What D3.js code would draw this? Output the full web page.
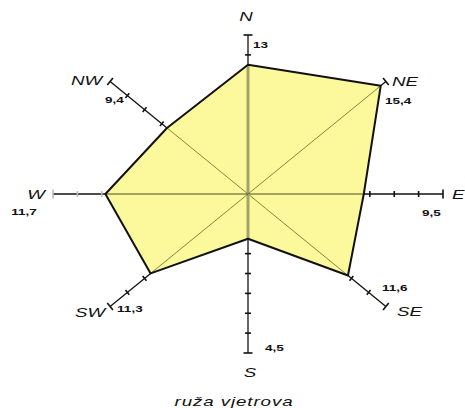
<!DOCTYPE html>
<html>
<head>
<meta charset="utf-8">
<script src="https://d3js.org/d3.v7.min.js"></script>
<style>
  body { margin: 0; background: #fff; }
  svg { display: block; }
  text { font-family: "Liberation Sans", Arial, sans-serif; font-style: italic; fill: #111; }
</style>
</head>
<body>
<div id="rose"></div>
<script>
// podaci - ruža vjetrova
const directions = ["N", "NE", "E", "SE", "S", "SW", "W", "NW"];
const speeds = [13, 15.4, 9.5, 11.6, 4.5, 11.3, 11.7, 9.4];
const valueLabels = ["13", "15,4", "9,5", "11,6", "4,5", "11,3", "11,7", "9,4"];
const tickValues = [2, 4, 6, 8, 10, 12, 14, 16];
const axisMax = 16;
const title = "ruža vjetrova";

// raspored
var width = 465, height = 408;
var cx = 248, cy = 194;
var svg = d3.select("#rose").append("svg")
            .attr("width", width)
            .attr("height", height);

// slika je razvučena vodoravno, zato dvije skale
var xScale = d3.scaleLinear().domain([-axisMax, axisMax]).range([cx - 195, cx + 195]);
var yScale = d3.scaleLinear().domain([-axisMax, axisMax]).range([cy + 159, cy - 159]);

function pt(i, v) {
  var a = i * Math.PI / 4;
  return [xScale(v * Math.sin(a)), yScale(v * Math.cos(a))];
}
function unit(i) {
  var e = pt(i, axisMax);
  var dx = e[0] - cx, dy = e[1] - cy, l = Math.sqrt(dx * dx + dy * dy);
  return [dx / l, dy / l];
}

// poligon (ispuna)
var poly = speeds.map((s, i) => pt(i, s));
svg.append("polygon")
   .attr("points", poly.map(p => p.join(",")).join(" "))
   .style("fill", "#fbf99b")
   .style("stroke", "none");

// osi unutar poligona
directions.forEach((d, i) => {
  var p = pt(i, speeds[i]);
  var vertical = (d === "N" || d === "S");
  svg.append("line")
     .attr("x1", cx).attr("y1", cy).attr("x2", p[0]).attr("y2", p[1])
     .style("stroke", vertical ? "#a2a36a" : (d === "E" || d === "W") ? "#4e4e1c" : "#86873c")
     .style("stroke-width", vertical ? 3 : 1);
});

// osi izvan poligona + crtice
directions.forEach((d, i) => {
  var p = pt(i, speeds[i]), e = pt(i, axisMax), u = unit(i);
  var n = [-u[1], u[0]];
  svg.append("line")
     .attr("x1", p[0]).attr("y1", p[1]).attr("x2", e[0]).attr("y2", e[1])
     .style("stroke", "#111").style("stroke-width", 1.3);
  tickValues.filter(t => t > speeds[i]).forEach(t => {
    var q = pt(i, t), len = t === axisMax ? 4.5 : 3;
    svg.append("line")
       .attr("x1", q[0] - n[0] * len).attr("y1", q[1] - n[1] * len)
       .attr("x2", q[0] + n[0] * len).attr("y2", q[1] + n[1] * len)
       .style("stroke", d === "W" ? "#bbb" : "#111").style("stroke-width", 1.6);
  });
});

// obrub poligona
svg.append("polygon")
   .attr("points", poly.map(p => p.join(",")).join(" "))
   .style("fill", "none")
   .style("stroke", "#111")
   .style("stroke-width", 2)
   .style("stroke-linejoin", "round");

// natpisi smjerova i vrijednosti (pomaci u pikselima od kraja osi)
var dirOffset = {
  N: [-2, -18, "middle"], NE: [6, 0, "start"], E: [9, 1, "start"], SE: [11, 5, "start"],
  S: [2, 20, "middle"], SW: [-5, 6, "end"], W: [-17, 1, "middle"], NW: [-8, -1, "end"]
};
var valOffset = {
  N: [5, 10, "start"], NE: [-1, 19, "start"], E: [-21, 19, "start"], SE: [-4, -19, "start"],
  S: [17, -5, "start"], SW: [7, 2, "start"], W: [-29, 18, "middle"], NW: [-5, 18, "start"]
};
var stretch = 1.5;

directions.forEach((d, i) => {
  var e = pt(i, axisMax);
  var o = dirOffset[d];
  svg.append("text")
     .attr("transform", "translate(" + (e[0] + o[0]) + "," + (e[1] + o[1]) + ") scale(" + stretch + ",1)")
     .attr("text-anchor", o[2])
     .attr("dominant-baseline", "central")
     .style("font-size", "12.5px")
     .text(d);
  var v = valOffset[d];
  svg.append("text")
     .attr("transform", "translate(" + (e[0] + v[0]) + "," + (e[1] + v[1]) + ") scale(" + stretch + ",1)")
     .attr("text-anchor", v[2])
     .attr("dominant-baseline", "central")
     .style("font-size", "9px")
     .style("font-weight", "bold")
     .style("font-style", "normal")
     .text(valueLabels[i]);
});

// naslov
svg.append("text")
   .attr("transform", "translate(234,402) scale(" + stretch + ",1)")
   .attr("text-anchor", "middle")
   .attr("dominant-baseline", "central")
   .style("font-size", "12.5px")
   .style("letter-spacing", "0.6px")
   .text(title);
</script>
</body>
</html>
